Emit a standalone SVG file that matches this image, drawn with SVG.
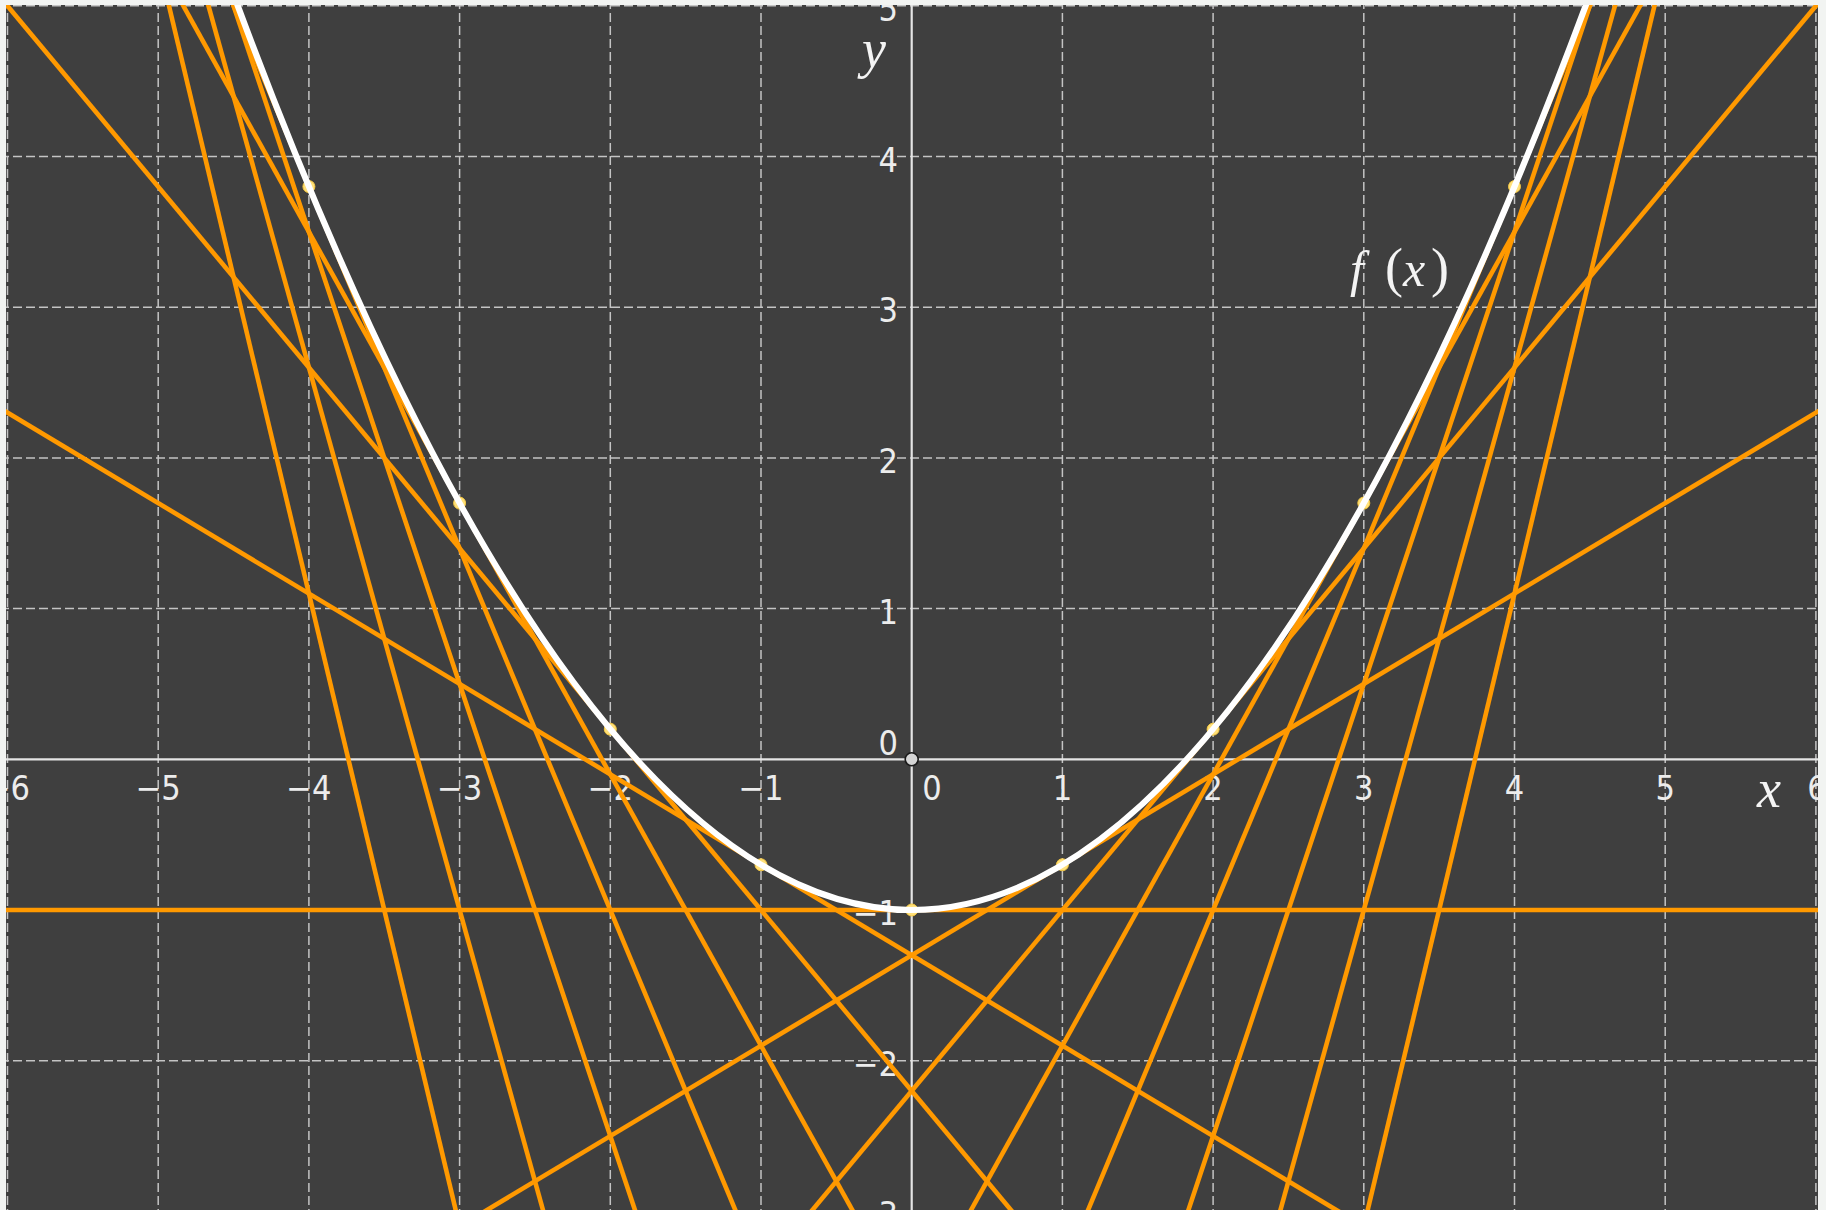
<svg xmlns="http://www.w3.org/2000/svg" width="1826" height="1210" viewBox="0 0 1826 1210">
<style>
.grid{stroke:#c4c4c4;stroke-width:1.5;stroke-dasharray:9 4;fill:none}
.axis{stroke:#e4e4e4;stroke-width:2.2;fill:none}
.tan{stroke:#ff9900;stroke-width:4.6;fill:none;stroke-linecap:butt}
.curve{stroke:#ffffff;stroke-width:6.2;fill:none}
.pt{fill:#ffe07a;stroke:#f5c842;stroke-width:1}
.num{font-family:"DejaVu Sans Condensed","DejaVu Sans",sans-serif;font-size:34px;fill:#ececec}
.xl{text-anchor:middle}
.yl{text-anchor:end}
.math{font-family:"Liberation Serif","DejaVu Serif",serif;font-style:italic;fill:#f4f4f4}
</style>
<defs>
<clipPath id="plot"><rect x="6" y="5" width="1812" height="1205"/></clipPath>
</defs>
<rect id="page" x="0" y="0" width="1826" height="1210" fill="#f2f4f2"/>
<rect id="plot-bg" x="6" y="5" width="1812" height="1205" fill="#3f3f3f"/>
<g clip-path="url(#plot)">
<g id="grid">
<line class="grid" x1="7.5" y1="0" x2="7.5" y2="1210"/>
<line class="grid" x1="158.2" y1="0" x2="158.2" y2="1210"/>
<line class="grid" x1="308.9" y1="0" x2="308.9" y2="1210"/>
<line class="grid" x1="459.6" y1="0" x2="459.6" y2="1210"/>
<line class="grid" x1="610.3" y1="0" x2="610.3" y2="1210"/>
<line class="grid" x1="761.0" y1="0" x2="761.0" y2="1210"/>
<line class="grid" x1="1062.4" y1="0" x2="1062.4" y2="1210"/>
<line class="grid" x1="1213.1" y1="0" x2="1213.1" y2="1210"/>
<line class="grid" x1="1363.8" y1="0" x2="1363.8" y2="1210"/>
<line class="grid" x1="1514.5" y1="0" x2="1514.5" y2="1210"/>
<line class="grid" x1="1665.2" y1="0" x2="1665.2" y2="1210"/>
<line class="grid" x1="1815.9" y1="0" x2="1815.9" y2="1210"/>
<line class="grid" x1="0" y1="5.8" x2="1826" y2="5.8"/>
<line class="grid" x1="0" y1="156.5" x2="1826" y2="156.5"/>
<line class="grid" x1="0" y1="307.2" x2="1826" y2="307.2"/>
<line class="grid" x1="0" y1="457.9" x2="1826" y2="457.9"/>
<line class="grid" x1="0" y1="608.6" x2="1826" y2="608.6"/>
<line class="grid" x1="0" y1="910.0" x2="1826" y2="910.0"/>
<line class="grid" x1="0" y1="1060.7" x2="1826" y2="1060.7"/>
<line class="grid" x1="0" y1="1211.4" x2="1826" y2="1211.4"/>
</g>
<g id="axes">
<line class="axis" x1="0" y1="759.3" x2="1826" y2="759.3"/>
<line class="axis" x1="911.7" y1="0" x2="911.7" y2="1210"/>
</g>
<g id="tick-labels" class="num">
<text class="xl" x="7.5" y="800">−6</text>
<text class="xl" x="158.2" y="800">−5</text>
<text class="xl" x="308.9" y="800">−4</text>
<text class="xl" x="459.6" y="800">−3</text>
<text class="xl" x="610.3" y="800">−2</text>
<text class="xl" x="761.0" y="800">−1</text>
<text class="xl" x="932" y="800">0</text>
<text class="xl" x="1062.4" y="800">1</text>
<text class="xl" x="1213.1" y="800">2</text>
<text class="xl" x="1363.8" y="800">3</text>
<text class="xl" x="1514.5" y="800">4</text>
<text class="xl" x="1665.2" y="800">5</text>
<text class="xl" x="1817" y="800">6</text>
<text class="yl" x="898" y="20.8">5</text>
<text class="yl" x="898" y="171.5">4</text>
<text class="yl" x="898" y="322.2">3</text>
<text class="yl" x="898" y="472.9">2</text>
<text class="yl" x="898" y="623.6">1</text>
<text class="yl" x="898" y="755">0</text>
<text class="yl" x="898" y="925">−1</text>
<text class="yl" x="898" y="1075.7">−2</text>
<text class="yl" x="898" y="1226.4">−3</text>
</g>
<g id="connectors">
<line id="t-7" class="tan" x1="158.2" y1="-39.4" x2="466.8" y2="1256.6"/>
<line id="t-6" class="tan" x1="195.9" y1="-39.4" x2="555.9" y2="1256.6"/>
<line id="t-5" class="tan" x1="218.5" y1="-39.4" x2="650.5" y2="1256.6"/>
<line id="t-4" class="tan" x1="214.7" y1="-39.4" x2="754.7" y2="1256.6"/>
<line id="t-3" class="tan" x1="158.2" y1="-39.4" x2="878.2" y2="1256.6"/>
<line id="t-2" class="tan" x1="-30.2" y1="-39.4" x2="1049.8" y2="1256.6"/>
<line id="t-1" class="tan" x1="-22.6" y1="394.6" x2="1414.0" y2="1256.6"/>
<line id="t0" class="tan" x1="-22.6" y1="910.0" x2="1846" y2="910.0"/>
<line id="t1" class="tan" x1="409.4" y1="1256.6" x2="1846.0" y2="394.6"/>
<line id="t2" class="tan" x1="773.6" y1="1256.6" x2="1853.6" y2="-39.4"/>
<line id="t3" class="tan" x1="945.2" y1="1256.6" x2="1665.2" y2="-39.4"/>
<line id="t4" class="tan" x1="1068.7" y1="1256.6" x2="1608.7" y2="-39.4"/>
<line id="t5" class="tan" x1="1172.9" y1="1256.6" x2="1604.9" y2="-39.4"/>
<line id="t6" class="tan" x1="1267.5" y1="1256.6" x2="1627.5" y2="-39.4"/>
<line id="t7" class="tan" x1="1356.6" y1="1256.6" x2="1665.2" y2="-39.4"/>
</g>
<g id="points">
<circle id="p-4" class="pt" cx="308.9" cy="186.6" r="6"/>
<circle id="p-3" class="pt" cx="459.6" cy="503.1" r="6"/>
<circle id="p-2" class="pt" cx="610.3" cy="729.2" r="6"/>
<circle id="p-1" class="pt" cx="761.0" cy="864.8" r="6"/>
<circle id="p0" class="pt" cx="911.7" cy="910.0" r="6"/>
<circle id="p1" class="pt" cx="1062.4" cy="864.8" r="6"/>
<circle id="p2" class="pt" cx="1213.1" cy="729.2" r="6"/>
<circle id="p3" class="pt" cx="1363.8" cy="503.1" r="6"/>
<circle id="p4" class="pt" cx="1514.5" cy="186.6" r="6"/>
</g>
<g id="f-curve">
<path class="curve" d="M218.5,-46.6 Q911.7,1866.6 1604.9,-46.6"/>
</g>
<g id="origin">
<circle cx="911.7" cy="759.3" r="6.5" fill="#d4d4d4" stroke="#1a1a1a" stroke-width="1.6"/>
</g>
<g id="labels">
<text class="math" x="862" y="67" font-size="54">y</text>
<text class="math" x="1757" y="807" font-size="54">x</text>
<text class="math" x="1352" y="286" font-size="50"><tspan x="1350">f</tspan><tspan x="1385" font-style="normal" font-size="54">(</tspan><tspan x="1403">x</tspan><tspan x="1431" font-style="normal" font-size="54">)</tspan></text>
</g>
</g>
</svg>
